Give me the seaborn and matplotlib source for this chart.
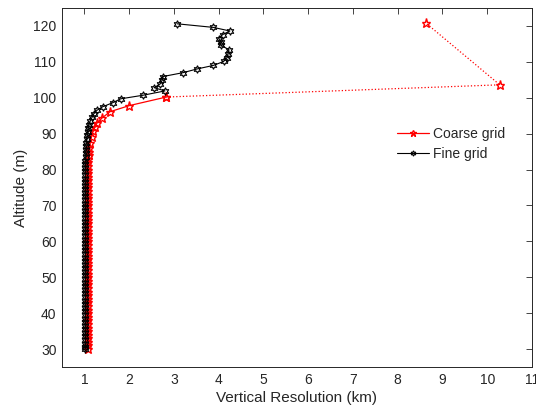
import numpy as np
import pandas as pd
import matplotlib
matplotlib.use("Agg")
import matplotlib.pyplot as plt
import seaborn as sns

# ---------------- data ----------------
fine_alt = [120.6, 119.6, 118.6, 117.6, 116.5, 115.5, 114.6, 113.4, 112.3, 111.2,
            110.1, 109.0, 108.0, 107.0, 105.9, 105.0, 103.9, 102.8, 101.9, 100.7,
            99.7, 98.6, 97.5, 96.5, 95.5, 94.5, 93.5, 92.5, 91.5, 90.5,
            89.5, 88.5, 87.5, 86.5, 85.5, 84.5, 83.5, 82.5, 81.5, 80.5,
            79.5, 78.5, 77.5, 76.5, 75.5, 74.5, 73.5, 72.5, 71.5, 70.5,
            69.5, 68.5, 67.5, 66.5, 65.5, 64.5, 63.5, 62.5, 61.5, 60.5,
            59.5, 58.5, 57.5, 56.5, 55.5, 54.5, 53.5, 52.5, 51.5, 50.5,
            49.5, 48.5, 47.5, 46.5, 45.5, 44.5, 43.5, 42.5, 41.5, 40.5,
            39.5, 38.5, 37.5, 36.5, 35.5, 34.5, 33.5, 32.5, 31.5, 30.5, 30.0]
fine_res = [3.07, 3.88, 4.25, 4.09, 4.00, 4.05, 4.05, 4.23, 4.21, 4.19,
            4.11, 3.88, 3.51, 3.21, 2.75, 2.74, 2.70, 2.56, 2.80, 2.31,
            1.81, 1.63, 1.41, 1.28, 1.21, 1.17, 1.13, 1.10, 1.08, 1.07,
            1.06, 1.05, 1.04, 1.04, 1.03, 1.03, 1.03, 1.02, 1.02, 1.02,
            1.02, 1.02, 1.02, 1.02, 1.02, 1.02, 1.02, 1.02, 1.02, 1.02,
            1.02, 1.02, 1.02, 1.02, 1.02, 1.02, 1.02, 1.02, 1.02, 1.02,
            1.02, 1.02, 1.02, 1.02, 1.02, 1.02, 1.02, 1.02, 1.02, 1.02,
            1.02, 1.02, 1.02, 1.02, 1.02, 1.02, 1.02, 1.02, 1.02, 1.02,
            1.02, 1.02, 1.02, 1.02, 1.02, 1.02, 1.02, 1.02, 1.02, 1.02, 1.02]

coarse_alt = [30, 31, 32, 33, 34, 35, 36, 37, 38, 39,
              40, 41, 42, 43, 44, 45, 46, 47, 48, 49,
              50, 51, 52, 53, 54, 55, 56, 57, 58, 59,
              60, 61, 62, 63, 64, 65, 66, 67, 68, 69,
              70, 71, 72, 73, 74, 75, 76, 77, 78, 79,
              80, 81, 82, 83, 84, 85, 86, 87.3, 89.2, 90.6,
              91.8, 92.9, 94.3, 96.1, 97.8, 100.2]
coarse_res = [1.07, 1.07, 1.07, 1.07, 1.07, 1.07, 1.07, 1.07, 1.07, 1.07,
              1.07, 1.07, 1.07, 1.07, 1.07, 1.07, 1.07, 1.07, 1.07, 1.07,
              1.07, 1.07, 1.07, 1.07, 1.07, 1.07, 1.07, 1.07, 1.07, 1.07,
              1.07, 1.07, 1.07, 1.07, 1.07, 1.07, 1.07, 1.07, 1.07, 1.07,
              1.07, 1.07, 1.07, 1.07, 1.07, 1.08, 1.08, 1.08, 1.08, 1.08,
              1.08, 1.09, 1.09, 1.09, 1.10, 1.10, 1.11, 1.13, 1.16, 1.19,
              1.23, 1.28, 1.39, 1.57, 2.00, 2.83]

coarse_top_alt = [100.2, 103.6, 120.8]
coarse_top_res = [2.83, 10.28, 8.63]

# ---------------- plot ----------------
sns.set_theme(style="white")
plt.rcParams['font.family'] = ['Liberation Sans', 'DejaVu Sans']
txt = '#262626'
axc = '#262626'

fig = plt.figure(figsize=(5.36, 4.15), dpi=100)
ax = fig.add_axes([62/536, 1-367/415, (532-62)/536, (367-8)/415])

hexstar = (6, 1, 0)
fine_df = pd.DataFrame({'res': fine_res, 'alt': fine_alt})
coarse_df = pd.DataFrame({'res': coarse_res, 'alt': coarse_alt})
top_df = pd.DataFrame({'res': coarse_top_res, 'alt': coarse_top_alt})

sns.lineplot(data=fine_df, x='res', y='alt', sort=False, estimator=None, ax=ax,
             color='black', lw=0.8, marker=hexstar, markersize=5.5,
             markerfacecolor='none', markeredgecolor='black', markeredgewidth=0.8,
             label='Fine grid', zorder=3)
sns.lineplot(data=coarse_df, x='res', y='alt', sort=False, estimator=None, ax=ax,
             color='red', lw=0.9, marker='*', markersize=6.5,
             markerfacecolor='none', markeredgecolor='red', markeredgewidth=1.0,
             label='Coarse grid', zorder=2)
sns.lineplot(data=top_df, x='res', y='alt', sort=False, estimator=None, ax=ax,
             color='red', lw=0.9, linestyle=':', marker='*', markersize=6.5,
             markerfacecolor='none', markeredgecolor='red', markeredgewidth=1.0,
             legend=False, zorder=2)

ax.set_xlim(0.5, 11)
ax.set_ylim(25, 125)
ax.set_xticks(range(1, 12))
ax.set_yticks(range(30, 121, 10))
ax.tick_params(direction='in', top=True, right=True, length=4, width=0.6,
               colors=axc, labelsize=10, labelcolor=txt, pad=4)
for s in ax.spines.values():
    s.set_visible(True)
    s.set_color(axc)
    s.set_linewidth(0.7)
ax.set_xlabel('Vertical Resolution (km)', fontsize=11, color=txt, labelpad=3)
ax.set_ylabel('Altitude (m)', fontsize=11, color=txt, labelpad=4)

h, l = ax.get_legend_handles_labels()
order = [l.index('Coarse grid'), l.index('Fine grid')]
ax.legend([h[i] for i in order], [l[i] for i in order], frameon=False,
          fontsize=10, loc='upper left', bbox_to_anchor=(0.70, 0.685),
          handlelength=2.3, handletextpad=0.3, labelspacing=0.45,
          borderaxespad=0, markerscale=0.7)

fig.savefig('out.png', dpi=100)
